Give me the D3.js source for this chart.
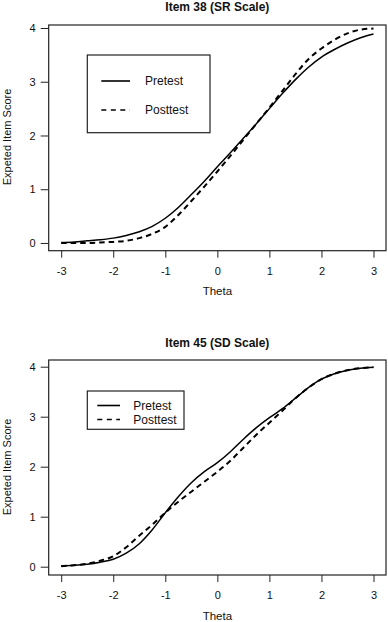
<!DOCTYPE html>
<html>
<head>
<meta charset="utf-8">
<script src="https://cdn.jsdelivr.net/npm/d3@7"></script>
<style>
  body { margin: 0; background: #fff; }
  svg { display: block; font-family: "Liberation Sans", Arial, sans-serif; }
</style>
</head>
<body>
<div id="chart"></div>
<script>
// theta grid shared by all curves
const theta = [-3, -2.75, -2.5, -2.25, -2, -1.75, -1.5, -1.25, -1, -0.75, -0.5, -0.25,
               0, 0.25, 0.5, 0.75, 1, 1.25, 1.5, 1.75, 2, 2.25, 2.5, 2.75, 3];

// Item 38 (SR Scale)
const item38Pre  = [0.01, 0.02, 0.04, 0.06, 0.09, 0.14, 0.21, 0.31, 0.46, 0.66, 0.90, 1.15,
                    1.42, 1.68, 1.95, 2.22, 2.50, 2.78, 3.04, 3.27, 3.46, 3.60, 3.72, 3.82, 3.89];
const item38Post = [0.00, 0.00, 0.00, 0.01, 0.02, 0.04, 0.09, 0.17, 0.30, 0.52, 0.78, 1.05,
                    1.33, 1.62, 1.92, 2.22, 2.52, 2.83, 3.14, 3.42, 3.62, 3.78, 3.90, 3.97, 3.99];

// Item 45 (SD Scale)
const item45Pre  = [0.02, 0.03, 0.05, 0.09, 0.15, 0.27, 0.46, 0.74, 1.08, 1.40, 1.68, 1.90,
                    2.08, 2.30, 2.55, 2.78, 2.98, 3.16, 3.37, 3.58, 3.75, 3.86, 3.93, 3.97, 3.99];
const item45Post = [0.01, 0.03, 0.06, 0.12, 0.21, 0.39, 0.62, 0.84, 1.08, 1.30, 1.50, 1.70,
                    1.90, 2.12, 2.38, 2.64, 2.88, 3.12, 3.37, 3.58, 3.75, 3.86, 3.93, 3.97, 3.99];

const xTicks = [-3, -2, -1, 0, 1, 2, 3];
const yTicks = [0, 1, 2, 3, 4];
const seriesNames = ['Pretest', 'Posttest'];
const titles = ['Item 38 (SR Scale)', 'Item 45 (SD Scale)'];

const svg = d3.select('#chart').append('svg')
    .attr('width', 388)
    .attr('height', 622);

const panels = [
    { title: titles[0], pre: item38Pre, post: item38Post,
      box: { left: 48.7, right: 386, top: 25, bottom: 250.7 },
      xDom: [-3.24, 3.24], yDom: [-0.144, 4.056],
      titleY: 7, xLabelY: 272, thetaY: 290.5, yLabelY: 137,
      legend: { x: 87.3, y: 55, w: 122.7, h: 77.7, lx1: 101.3, lx2: 130, tx: 145, rows: [81, 110] } },
    { title: titles[1], pre: item45Pre, post: item45Post,
      box: { left: 48.7, right: 386, top: 360, bottom: 575 },
      xDom: [-3.24, 3.24], yDom: [-0.166, 4.134],
      titleY: 343, xLabelY: 596, thetaY: 615.5, yLabelY: 467,
      legend: { x: 87.3, y: 391, w: 96.7, h: 38.3, lx1: 97.3, lx2: 120, tx: 133.3, rows: [405.5, 419.5] } }
];

const dashes = [null, '5.5,4'];
const widths = [1.5, 2];
const plain = d => String(d);   // R-style hyphen minus

panels.forEach(p => {
    const x = d3.scaleLinear().domain(p.xDom).range([p.box.left, p.box.right]);
    const y = d3.scaleLinear().domain(p.yDom).range([p.box.bottom, p.box.top]);
    const g = svg.append('g');

    // title
    g.append('text')
        .attr('x', (p.box.left + p.box.right) / 2)
        .attr('y', p.titleY)
        .attr('dy', '0.35em')
        .attr('text-anchor', 'middle')
        .attr('font-size', 12)
        .attr('font-weight', 'bold')
        .attr('fill', '#111')
        .text(p.title);

    // axes
    const xAxis = g.append('g')
        .attr('transform', `translate(0,${p.box.bottom})`)
        .call(d3.axisBottom(x).tickValues(xTicks).tickSize(7).tickFormat(plain));
    xAxis.select('.domain').remove();
    xAxis.selectAll('text').attr('y', 0).attr('dy', (p.xLabelY - p.box.bottom) + 'px')
        .attr('dominant-baseline', 'middle');

    const yAxis = g.append('g')
        .attr('transform', `translate(${p.box.left},0)`)
        .call(d3.axisLeft(y).tickValues(yTicks).tickSize(8).tickFormat(plain));
    yAxis.select('.domain').remove();
    yAxis.selectAll('text').attr('x', -13);

    g.selectAll('.tick line').attr('stroke', '#222');
    g.selectAll('.tick text').attr('font-size', 11).attr('fill', '#111')
        .attr('font-family', '"Liberation Sans", Arial, sans-serif');

    // plot frame
    g.append('rect')
        .attr('x', p.box.left).attr('y', p.box.top)
        .attr('width', p.box.right - p.box.left)
        .attr('height', p.box.bottom - p.box.top)
        .attr('fill', 'none')
        .attr('stroke', '#222')
        .attr('stroke-width', 1.2);

    // axis titles
    g.append('text')
        .attr('x', (p.box.left + p.box.right) / 2)
        .attr('y', p.thetaY)
        .attr('dy', '0.35em')
        .attr('text-anchor', 'middle')
        .attr('font-size', 11.5)
        .attr('font-family', '"Liberation Sans Narrow", "Arial Narrow", sans-serif')
        .attr('fill', '#111')
        .text('Theta');

    g.append('text')
        .attr('transform', `translate(7,${p.yLabelY}) rotate(-90)`)
        .attr('dy', '0.35em')
        .attr('text-anchor', 'middle')
        .attr('font-size', 11)
        .attr('fill', '#111')
        .text('Expeted Item Score');

    // curves
    const line = d3.line()
        .x((d, i) => x(theta[i]))
        .y(d => y(d))
        .curve(d3.curveMonotoneX);

    [p.pre, p.post].forEach((vals, k) => {
        g.append('path')
            .datum(vals)
            .attr('fill', 'none')
            .attr('stroke', '#000')
            .attr('stroke-width', widths[k])
            .attr('stroke-dasharray', dashes[k])
            .attr('d', line);
    });

    // legend
    const L = p.legend;
    g.append('rect')
        .attr('x', L.x).attr('y', L.y)
        .attr('width', L.w).attr('height', L.h)
        .attr('fill', '#fff')
        .attr('stroke', '#222')
        .attr('stroke-width', 1.2);
    seriesNames.forEach((name, k) => {
        g.append('line')
            .attr('x1', L.lx1).attr('x2', L.lx2)
            .attr('y1', L.rows[k]).attr('y2', L.rows[k])
            .attr('stroke', '#000')
            .attr('stroke-width', k === 0 ? 1.6 : 1.4)
            .attr('stroke-dasharray', k === 0 ? null : '5,4.5');
        g.append('text')
            .attr('x', L.tx).attr('y', L.rows[k])
            .attr('dy', '0.35em')
            .attr('font-size', 12)
            .attr('fill', '#111')
            .text(name);
    });
});
</script>
</body>
</html>
